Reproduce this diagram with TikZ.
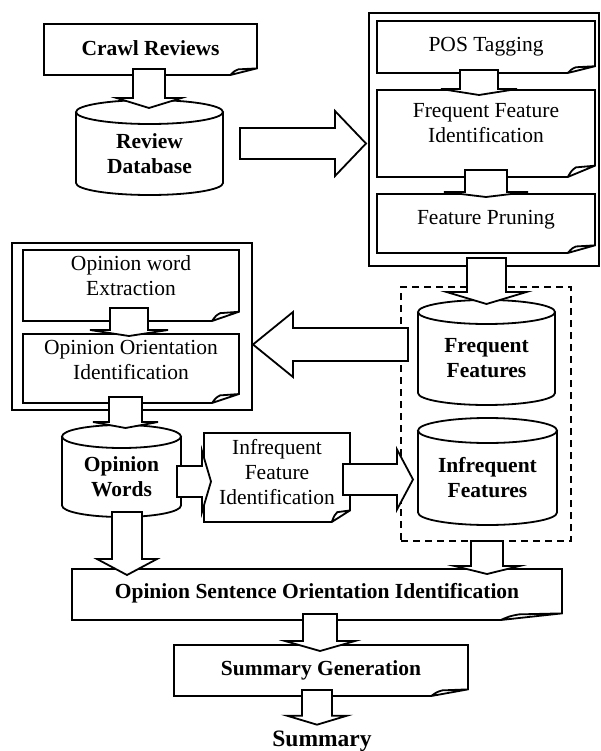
\documentclass[tikz,border=0pt]{standalone}
\usepackage{fontspec}
\setmainfont{Liberation Serif}
\usetikzlibrary{positioning}
\usetikzlibrary{calc}

\begin{document}
\begin{tikzpicture}[
    x=1pt, y=-1pt,
    every node/.style={
        inner sep=0pt,
        outer sep=0pt,
        align=center,
        font=\fontsize{21.5}{25}\selectfont,
    },
    outline/.style={
        draw=black,
        line width=1.8pt,
        line join=miter,
    },
    blk/.style={
        outline,
        fill=white,
    },
    strong/.style={
        font=\fontsize{21.5}{25}\selectfont\bfseries,
    },
    doc/.style n args={2}{
        rectangle,
        minimum width=#1pt,
        minimum height=#2pt,
    },
    cyl/.style n args={2}{
        rectangle,
        minimum width=#1pt,
        minimum height=#2pt,
    },
    group/.style n args={2}{
        outline,
        rectangle,
        minimum width=#1pt,
        minimum height=#2pt,
    },
]
    % ~~~ frames ~~~~~~~~~~~~~~~~~~~~~~~~~~~~~~~~~~~~~~~~~~~~~~
    \newcommand\docframe[1]{%
        \draw[outline] let \p1=(#1.south west), \p2=(#1.north east),
            \n1={0.125*(\x2-\x1)}, \n2={0.13*(\y2-\y1)} in
            (\x1,\y2) -- (\x2,\y2) -- (\x2,\y1+\n2) -- (\x2-\n1,\y1) -- (\x1,\y1) -- cycle
            (\x2-\n1,\y1) .. controls (\x2-0.85*\n1,\y1+0.6*\n2) .. (\x2-0.7*\n1,\y1+0.85*\n2) -- (\x2,\y1+\n2);
    }
    \newcommand\cylframe[2]{%
        \draw[outline] let \p1=(#1.north west), \p2=(#1.south east),
            \n1={(\x2-\x1)/2} in
            (\x1,\y1) -- (\x1,\y2+#2pt)
            arc[start angle=180, end angle=360, x radius=\n1, y radius=#2pt] -- (\x2,\y1)
            ({\x1+\n1},\y1) ellipse[x radius=\n1, y radius=#2pt];
    }
    % ~~~ block arrows: from, to, shaft, head, head length ~~~~~~~~~~
    \newcommand\arrdown[5]{%
        \draw[blk] let \p1=(#1), \p2=(#2) in
            (\x1-#3pt,\y1) -- (\x1-#3pt,\y2+#5pt) -- (\x1-#4pt,\y2+#5pt) -- (\x1,\y2)
            -- (\x1+#4pt,\y2+#5pt) -- (\x1+#3pt,\y2+#5pt) -- (\x1+#3pt,\y1) -- cycle;
    }
    \newcommand\arrright[5]{%
        \draw[blk] let \p1=(#1), \p2=(#2) in
            (\x1,\y1+#3pt) -- (\x2-#5pt,\y1+#3pt) -- (\x2-#5pt,\y1+#4pt) -- (\x2,\y1)
            -- (\x2-#5pt,\y1-#4pt) -- (\x2-#5pt,\y1-#3pt) -- (\x1,\y1-#3pt) -- cycle;
    }
    \newcommand\arrleft[5]{%
        \draw[blk] let \p1=(#1), \p2=(#2) in
            (\x1,\y1+#3pt) -- (\x2+#5pt,\y1+#3pt) -- (\x2+#5pt,\y1+#4pt) -- (\x2,\y1)
            -- (\x2+#5pt,\y1-#4pt) -- (\x2+#5pt,\y1-#3pt) -- (\x1,\y1-#3pt) -- cycle;
    }

    \useasboundingbox (0,0) rectangle (601,751);

    % ~~~ groups ~~~~~~~~~~~~~~~~~~~~~~~~~~~~~~~~~~~~~~~~~~~~~~
    \node[group={230}{253}] (rgroup) at (484,139.5) {};
    \node[group={240}{167}] (lgroup) at (132,326.5) {};
    \node[group={170}{254}, dash pattern=on 7pt off 5pt] (store) at (486,414) {};

    % ~~~ steps (text sits above the fold) ~~~~~~~~~~~~~~~~~~~~~~
    \node[doc={213}{51}, label={[name=crawltext, strong, yshift=1pt]center:Crawl Reviews}] (crawl) at (150.5,49.5) {};
    \node[doc={218}{52}, label={[name=postext]center:POS Tagging}] (pos) at (486,47) {};
    \node[doc={218}{87}, label={[name=ffitext, yshift=10pt]center:Frequent Feature\\Identification}] (ffi) at (486,133.5) {};
    \node[doc={218}{59}, label={[name=fptext, yshift=4pt]center:Feature Pruning}] (fp) at (486,223.5) {};
    \node[doc={216}{71}, label={[name=owetext, yshift=10pt]center:Opinion word\\Extraction}] (owe) at (131,285.5) {};
    \node[doc={216}{69}, label={[name=ooitext, yshift=8.5pt]center:Opinion Orientation\\Identification}] (ooi) at (131,368.5) {};
    \node[doc={146}{89}, label={[name=ifitext, yshift=5pt]center:Infrequent\\Feature\\Identification}] (ifi) at (277,477.5) {};
    \node[doc={490}{51}, label={[name=ositext, strong, yshift=1pt]center:Opinion Sentence Orientation Identification}] (osoi) at (317,594.5) {};
    \node[doc={294}{51}, label={[name=sgtext, strong]center:Summary Generation}] (sg) at (321,670.5) {};
    \node[strong, font=\fontsize{23.5}{27}\selectfont\bfseries] (summary) at (322,741) {Summary};

    % ~~~ stores ~~~~~~~~~~~~~~~~~~~~~~~~~~~~~~~~~~~~~~~~~~~~~~
    \node[cyl={147}{83}, strong] (revdb) at (149.5,153.5) {Review\\Database};
    \node[cyl={137}{93}, strong] (freq) at (486.5,358.5) {Frequent\\Features};
    \node[cyl={139}{94.5}, strong] (infreq) at (487.5,477.75) {Infrequent\\Features};
    \node[cyl={119}{80.5}, strong] (opw) at (121.5,476.75) {Opinion\\Words};

    \foreach \nd in {crawl,pos,ffi,fp,owe,ooi,ifi,osoi,sg}{
        \docframe{\nd}
    }
    \foreach \nd/\r in {revdb/12,freq/12,infreq/12.5,opw/11.5}{
        \cylframe{\nd}{\r}
    }

    % ~~~ flow ~~~~~~~~~~~~~~~~~~~~~~~~~~~~~~~~~~~~~~~~~~~~~~~~
    \arrdown{[xshift=-1.5pt,yshift=6pt]crawl.south}{[yshift=4pt]revdb.north}{16}{32.5}{10}
    \arrright{[xshift=17pt,yshift=10pt]revdb.east}{[xshift=-3pt]rgroup.west}{15.5}{32.5}{31}
    \arrdown{[xshift=-7pt,yshift=3pt]pos.south}{[yshift=-5pt]ffi.north}{19}{38}{6}
    \arrdown{[yshift=7pt]ffi.south}{[yshift=-3pt]fp.north}{21}{42}{5}
    \arrdown{[xshift=0.5pt,yshift=-5pt]fp.south}{[yshift=8pt]freq.north}{19.5}{40}{12}
    \arrleft{[xshift=-10pt,yshift=14pt]freq.west}{[xshift=1pt]lgroup.east}{16.5}{32.5}{40}
    \arrdown{[xshift=-2pt,yshift=13pt]owe.south}{[yshift=-2pt]ooi.north}{19}{39}{6}
    \arrdown{[xshift=-5.5pt,yshift=6pt]ooi.south}{[yshift=8.5pt]opw.north}{16.5}{32.5}{6}
    \arrdown{[xshift=5.5pt,yshift=5pt]opw.south}{[yshift=-6pt]osoi.north}{15}{30}{16}
    \arrright{[xshift=-4pt,yshift=-4.75pt]opw.east}{[xshift=7pt]ifi.west}{15.5}{30.5}{9}
    \arrright{[xshift=-7pt,yshift=-2pt]ifi.east}{[xshift=-5pt]infreq.west}{15.5}{30}{16}
    \arrdown{[xshift=1pt]store.south}{[yshift=-5pt]osoi.north}{16}{32.5}{8}
    \arrdown{[xshift=3pt,yshift=6pt]osoi.south}{[yshift=-6pt]sg.north}{17}{35}{10}
    \arrdown{[xshift=-4pt,yshift=6pt]sg.south}{[yshift=6pt]summary.north}{15}{30}{9}
\end{tikzpicture}
\end{document}
